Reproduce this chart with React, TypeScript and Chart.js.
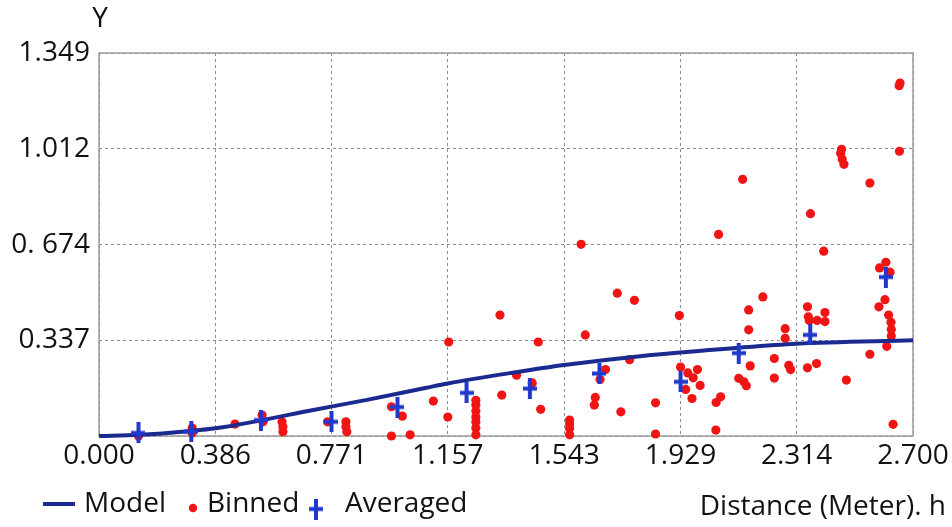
import React, { useEffect, useRef } from 'react';
import { Chart, registerables } from 'chart.js';

Chart.register(...registerables);

const FONT_FAMILY = "'Open Sans', 'DejaVu Sans', sans-serif";

// Axis ticks
const xTickValues = [0, 0.386, 0.771, 1.157, 1.543, 1.929, 2.314, 2.7];
const xTickLabels = ['0.000', '0.386', '0.771', '1.157', '1.543', '1.929', '2.314', '2.700'];
const yTickValues = [0, 0.337, 0.674, 1.012, 1.349];
const yTickLabels = ['', '0.337', '0. 674', '1.012', '1.349'];

// Fitted variogram model
const modelH = [0, 0.131, 0.306, 0.386, 0.537, 0.702, 0.893, 1.086, 1.157, 1.367, 1.543, 1.802, 2.122, 2.314, 2.7];
const modelGamma = [0, 0.004, 0.018, 0.027, 0.055, 0.09, 0.128, 0.17, 0.185, 0.222, 0.25, 0.282, 0.311, 0.325, 0.337];

// Binned semivariance cloud
const binnedH = [
  0.131, 0.309, 0.309, 0.451, 0.541, 0.544, 0.607, 0.61, 0.61, 0.758,
  0.819, 0.819, 0.822, 0.97, 1.006, 0.97, 1.032, 1.109, 1.157, 1.16,
  1.25, 1.25, 1.25, 1.25, 1.25, 1.25, 1.25, 1.33, 1.336, 1.385,
  1.437, 1.457, 1.465, 1.561, 1.561, 1.561, 1.561, 1.599, 1.613, 1.68,
  1.662, 1.646, 1.643, 1.719, 1.776, 1.76, 1.731, 1.846, 1.846, 1.925,
  1.929, 1.953, 1.971, 1.985, 1.994, 1.946, 1.967, 2.047, 2.062, 2.046,
  2.055, 2.135, 2.155, 2.155, 2.16, 2.122, 2.139, 2.147, 2.202, 2.24,
  2.24, 2.276, 2.276, 2.288, 2.294, 2.35, 2.353, 2.356, 2.382, 2.408,
  2.408, 2.35, 2.38, 2.36, 2.404, 2.463, 2.46, 2.465, 2.471, 2.479,
  2.557, 2.557, 2.655, 2.657, 2.654, 2.589, 2.61, 2.624, 2.607, 2.587,
  2.619, 2.627, 2.628, 2.628, 2.613, 2.634,
];
const binnedGamma = [
  0.0, 0.028, 0.011, 0.042, 0.074, 0.05, 0.05, 0.033, 0.015, 0.05,
  0.05, 0.033, 0.015, 0.103, 0.07, 0.0, 0.004, 0.123, 0.067, 0.331,
  0.126, 0.109, 0.088, 0.067, 0.049, 0.028, 0.004, 0.426, 0.144, 0.214,
  0.187, 0.331, 0.094, 0.056, 0.042, 0.027, 0.004, 0.675, 0.356, 0.234,
  0.199, 0.136, 0.109, 0.503, 0.478, 0.269, 0.085, 0.117, 0.007, 0.424,
  0.243, 0.222, 0.205, 0.234, 0.178, 0.164, 0.132, 0.118, 0.138, 0.021,
  0.71, 0.904, 0.444, 0.374, 0.247, 0.203, 0.191, 0.177, 0.49, 0.273,
  0.204, 0.378, 0.344, 0.249, 0.234, 0.455, 0.42, 0.407, 0.407, 0.435,
  0.403, 0.24, 0.255, 0.783, 0.651, 1.01, 0.996, 0.976, 0.957, 0.197,
  0.891, 0.288, 1.003, 1.243, 1.234, 0.592, 0.612, 0.577, 0.48, 0.455,
  0.426, 0.401, 0.375, 0.352, 0.316, 0.041,
];

// Lag-averaged semivariance
const averagedH = [0.131, 0.306, 0.537, 0.771, 0.99, 1.219, 1.429, 1.66, 1.929, 2.122, 2.359, 2.61];
const averagedGamma = [0.011, 0.015, 0.056, 0.05, 0.102, 0.152, 0.167, 0.22, 0.191, 0.292, 0.356, 0.56];

const MODEL_COLOR = '#1b2a8f';
const BINNED_COLOR = '#f01414';
const AVERAGED_COLOR = '#2038cc';

const pairs = (xs: number[], ys: number[]) => xs.map((x, i) => ({ x, y: ys[i] }));

function makeCross(color: string) {
  const c = document.createElement('canvas');
  c.width = 14;
  c.height = 21;
  const g = c.getContext('2d')!;
  g.fillStyle = color;
  g.fillRect(0, 8.5, 14, 4);
  g.fillRect(5, 0, 4, 21);
  return c;
}

// Plot frame drawn under the data
const framePlugin = {
  id: 'plotFrame',
  beforeDatasetsDraw(chart: any, _args: any, opts: any) {
    const { ctx, chartArea: a } = chart;
    ctx.save();
    ctx.strokeStyle = opts.color;
    ctx.lineWidth = opts.width;
    ctx.strokeRect(a.left, a.top, a.right - a.left, a.bottom - a.top);
    ctx.restore();
  },
};

// Single-row legend plus the axis captions
const rowLegendPlugin = {
  id: 'rowLegend',
  afterDraw(chart: any, _args: any, opts: any) {
    const { ctx, chartArea } = chart;
    ctx.save();
    ctx.font = opts.font;
    ctx.fillStyle = opts.color;
    ctx.textBaseline = 'middle';
    chart.data.datasets.forEach((ds: any, i: number) => {
      const slot = opts.slots[i];
      const y = opts.y;
      if (slot.kind === 'line') {
        ctx.save();
        ctx.strokeStyle = ds.borderColor;
        ctx.lineWidth = ds.borderWidth;
        ctx.beginPath();
        ctx.moveTo(slot.x0, y);
        ctx.lineTo(slot.x1, y);
        ctx.stroke();
        ctx.restore();
      } else if (slot.kind === 'dot') {
        ctx.save();
        ctx.fillStyle = ds.backgroundColor;
        ctx.beginPath();
        ctx.arc(slot.x0, y + slot.dy, slot.r, 0, Math.PI * 2);
        ctx.fill();
        ctx.restore();
      } else if (slot.kind === 'image') {
        const img = ds.pointStyle;
        ctx.drawImage(img, slot.x0 - img.width / 2, y + slot.dy - img.height / 2);
      }
      ctx.textAlign = 'left';
      ctx.fillText(ds.label, slot.textX, y);
    });
    // axis captions
    const xt = chart.options.scales.x.title.text;
    const yt = chart.options.scales.y.title.text;
    ctx.textAlign = 'right';
    ctx.fillText(xt, opts.xTitleRight, opts.xTitleY);
    ctx.textAlign = 'center';
    ctx.fillText(yt, chartArea.left + 1, opts.yTitleY);
    ctx.restore();
  },
};

export default function App() {
  const canvasRef = useRef<HTMLCanvasElement | null>(null);

  useEffect(() => {
    const canvas = canvasRef.current;
    if (!canvas) return;
    const cross = makeCross(AVERAGED_COLOR);
    const tickFont = { family: FONT_FAMILY, size: 28 };

    const chart = new Chart(canvas, {
      type: 'scatter',
      data: {
        datasets: [
          {
            type: 'line',
            label: 'Model',
            data: pairs(modelH, modelGamma),
            borderColor: MODEL_COLOR,
            backgroundColor: MODEL_COLOR,
            borderWidth: 4,
            pointRadius: 0,
            tension: 0.4,
            cubicInterpolationMode: 'monotone',
            fill: false,
            order: 1,
            clip: false,
          } as any,
          {
            label: 'Binned',
            data: pairs(binnedH, binnedGamma),
            backgroundColor: BINNED_COLOR,
            borderColor: BINNED_COLOR,
            borderWidth: 0,
            pointRadius: 4.6,
            order: 2,
            clip: false,
          } as any,
          {
            label: 'Averaged',
            data: pairs(averagedH, averagedGamma),
            pointStyle: cross,
            backgroundColor: AVERAGED_COLOR,
            borderColor: AVERAGED_COLOR,
            order: 0,
            clip: false,
          } as any,
        ],
      },
      options: {
        animation: false,
        responsive: false,
        events: [],
        layout: { padding: { top: 53, right: 39, bottom: 51, left: 0 } },
        plugins: {
          legend: { display: false },
          tooltip: { enabled: false },
          plotFrame: { color: '#9c9c9c', width: 1.5 },
          rowLegend: {
            font: `28px ${FONT_FAMILY}`,
            color: '#111111',
            y: 504,
            xTitleRight: 946,
            xTitleY: 507,
            yTitleY: 19,
            slots: [
              { kind: 'line', x0: 43, x1: 75, textX: 84 },
              { kind: 'dot', x0: 193, r: 4.2, dy: 4, textX: 207 },
              { kind: 'image', x0: 316, dy: 5, textX: 345 },
            ],
          },
        } as any,
        scales: {
          x: {
            type: 'linear',
            min: 0,
            max: 2.7,
            title: { display: false, text: 'Distance (Meter). h' },
            afterFit: (s: any) => {
              s.height = 40;
            },
            afterBuildTicks: (s: any) => {
              s.ticks = xTickValues.map((value) => ({ value }));
            },
            ticks: {
              autoSkip: false,
              maxRotation: 0,
              padding: 3,
              color: '#111111',
              font: tickFont,
              callback: (_v: any, i: number) => xTickLabels[i],
            },
            grid: { color: '#8c8c8c', lineWidth: 1, drawTicks: false },
            border: { display: false, dash: [3, 3] },
          },
          y: {
            type: 'linear',
            min: 0,
            max: 1.349,
            title: { display: false, text: 'Y' },
            afterFit: (s: any) => {
              s.width = 99;
            },
            afterBuildTicks: (s: any) => {
              s.ticks = yTickValues.map((value) => ({ value }));
            },
            ticks: {
              autoSkip: false,
              padding: 9,
              color: '#111111',
              font: tickFont,
              callback: (_v: any, i: number) => yTickLabels[i],
            },
            grid: { color: '#8c8c8c', lineWidth: 1, drawTicks: false },
            border: { display: false, dash: [3, 3] },
          },
        },
      },
      plugins: [framePlugin, rowLegendPlugin],
    });

    return () => chart.destroy();
  }, []);

  return (
    <div style={{ position: 'fixed', left: 0, top: 0, width: 952, height: 527, background: '#ffffff' }}>
      <canvas ref={canvasRef} width={952} height={527} style={{ display: 'block' }} />
    </div>
  );
}
